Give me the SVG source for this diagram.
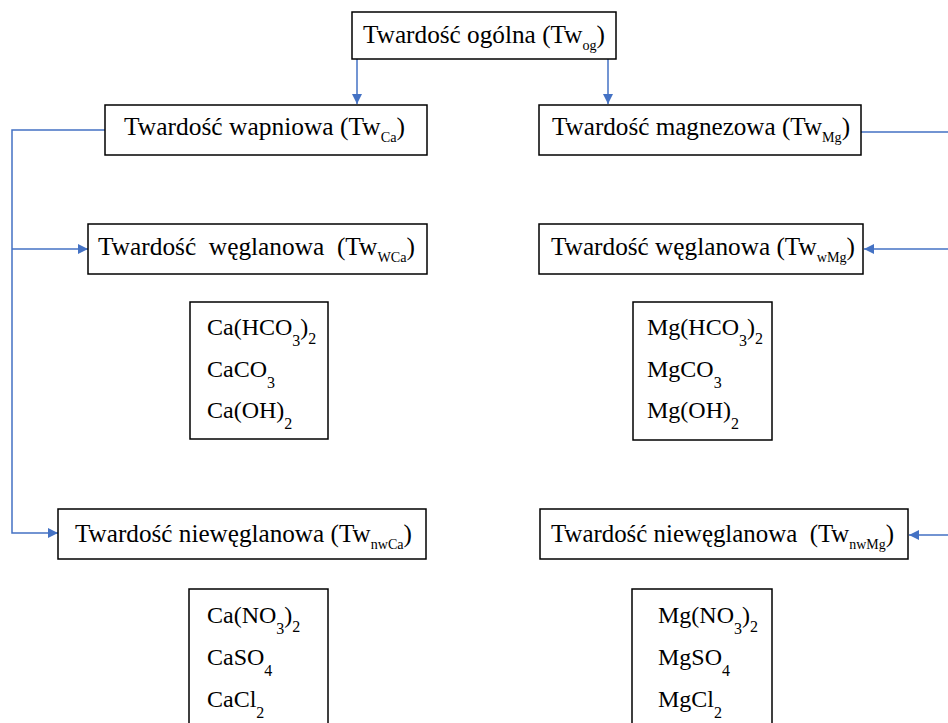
<svg xmlns="http://www.w3.org/2000/svg" width="948" height="723" viewBox="0 0 948 723">
<style>
.box{fill:#fff;stroke:#000;stroke-width:1.5}
text{font-family:'Liberation Serif','DejaVu Serif',serif;fill:#000}
.lbl{font-size:25px}
.sub{font-size:14px}
.f{font-size:24px}
.fs{font-size:16px}
.con{fill:none;stroke:#4472C4;stroke-width:1.5}
</style>
<defs>
<marker id="ah" viewBox="0 0 10 10" refX="10" refY="5" markerWidth="10" markerHeight="10" markerUnits="userSpaceOnUse" orient="auto">
<path d="M0,0 L10,5 L0,10 Z" fill="#4472C4"/>
</marker>
</defs>
<g id="connectors">
<path class="con" d="M357 59 V104" marker-end="url(#ah)"/>
<path class="con" d="M608 59 V104" marker-end="url(#ah)"/>
<path class="con" d="M105 130 H12 V533 H58" marker-end="url(#ah)"/>
<path class="con" d="M12 249 H88" marker-end="url(#ah)"/>
<path class="con" d="M861 132 H958 V535 H909" marker-end="url(#ah)"/>
<path class="con" d="M958 249 H864" marker-end="url(#ah)"/>
</g>
<g id="n-og">
<rect class="box" x="352" y="12" width="264" height="47"/>
<text class="lbl" x="363" y="43" textLength="242" lengthAdjust="spacingAndGlyphs">Twardość ogólna (Tw<tspan class="sub" dy="7">og</tspan><tspan dy="-7">)</tspan></text>
</g>
<g id="n-ca">
<rect class="box" x="105" y="105" width="322" height="50"/>
<text class="lbl" x="124" y="135" textLength="281" lengthAdjust="spacingAndGlyphs">Twardość wapniowa (Tw<tspan class="sub" dy="7">Ca</tspan><tspan dy="-7">)</tspan></text>
</g>
<g id="n-mg">
<rect class="box" x="539" y="105" width="322" height="50"/>
<text class="lbl" x="552" y="135" textLength="298" lengthAdjust="spacingAndGlyphs">Twardość magnezowa (Tw<tspan class="sub" dy="7">Mg</tspan><tspan dy="-7">)</tspan></text>
</g>
<g id="n-wca">
<rect class="box" x="88" y="224" width="339" height="50"/>
<text class="lbl" x="98" y="255" textLength="317" lengthAdjust="spacingAndGlyphs" xml:space="preserve">Twardość  węglanowa  (Tw<tspan class="sub" dy="7">WCa</tspan><tspan dy="-7">)</tspan></text>
</g>
<g id="n-wmg">
<rect class="box" x="539" y="224" width="324" height="50"/>
<text class="lbl" x="551" y="255" textLength="304" lengthAdjust="spacingAndGlyphs">Twardość węglanowa (Tw<tspan class="sub" dy="7">wMg</tspan><tspan dy="-7">)</tspan></text>
</g>
<g id="n-fca1">
<rect class="box" x="190" y="302" width="138" height="137"/>
<text class="f" x="207" y="335">Ca(HCO<tspan class="fs" dy="11">3</tspan><tspan dy="-11">)</tspan><tspan class="fs" dy="9">2</tspan></text>
<text class="f" x="207" y="377">CaCO<tspan class="fs" dy="11">3</tspan></text>
<text class="f" x="207" y="418">Ca(OH)<tspan class="fs" dy="11">2</tspan></text>
</g>
<g id="n-fmg1">
<rect class="box" x="633" y="302" width="139" height="138"/>
<text class="f" x="647" y="335">Mg(HCO<tspan class="fs" dy="11">3</tspan><tspan dy="-11">)</tspan><tspan class="fs" dy="9">2</tspan></text>
<text class="f" x="647" y="377">MgCO<tspan class="fs" dy="11">3</tspan></text>
<text class="f" x="647" y="418">Mg(OH)<tspan class="fs" dy="11">2</tspan></text>
</g>
<g id="n-nwca">
<rect class="box" x="58" y="509" width="368" height="50"/>
<text class="lbl" x="75" y="542" textLength="337" lengthAdjust="spacingAndGlyphs">Twardość niewęglanowa (Tw<tspan class="sub" dy="7">nwCa</tspan><tspan dy="-7">)</tspan></text>
</g>
<g id="n-nwmg">
<rect class="box" x="540" y="509" width="368" height="50"/>
<text class="lbl" x="551" y="542" textLength="343" lengthAdjust="spacingAndGlyphs" xml:space="preserve">Twardość niewęglanowa  (Tw<tspan class="sub" dy="7">nwMg</tspan><tspan dy="-7">)</tspan></text>
</g>
<g id="n-fca2">
<rect class="box" x="189" y="589" width="139" height="150"/>
<text class="f" x="207" y="623">Ca(NO<tspan class="fs" dy="11">3</tspan><tspan dy="-11">)</tspan><tspan class="fs" dy="9">2</tspan></text>
<text class="f" x="207" y="665">CaSO<tspan class="fs" dy="11">4</tspan></text>
<text class="f" x="207" y="707">CaCl<tspan class="fs" dy="11">2</tspan></text>
</g>
<g id="n-fmg2">
<rect class="box" x="632" y="589" width="140" height="150"/>
<text class="f" x="658" y="623">Mg(NO<tspan class="fs" dy="11">3</tspan><tspan dy="-11">)</tspan><tspan class="fs" dy="9">2</tspan></text>
<text class="f" x="658" y="665">MgSO<tspan class="fs" dy="11">4</tspan></text>
<text class="f" x="658" y="707">MgCl<tspan class="fs" dy="11">2</tspan></text>
</g>
</svg>
